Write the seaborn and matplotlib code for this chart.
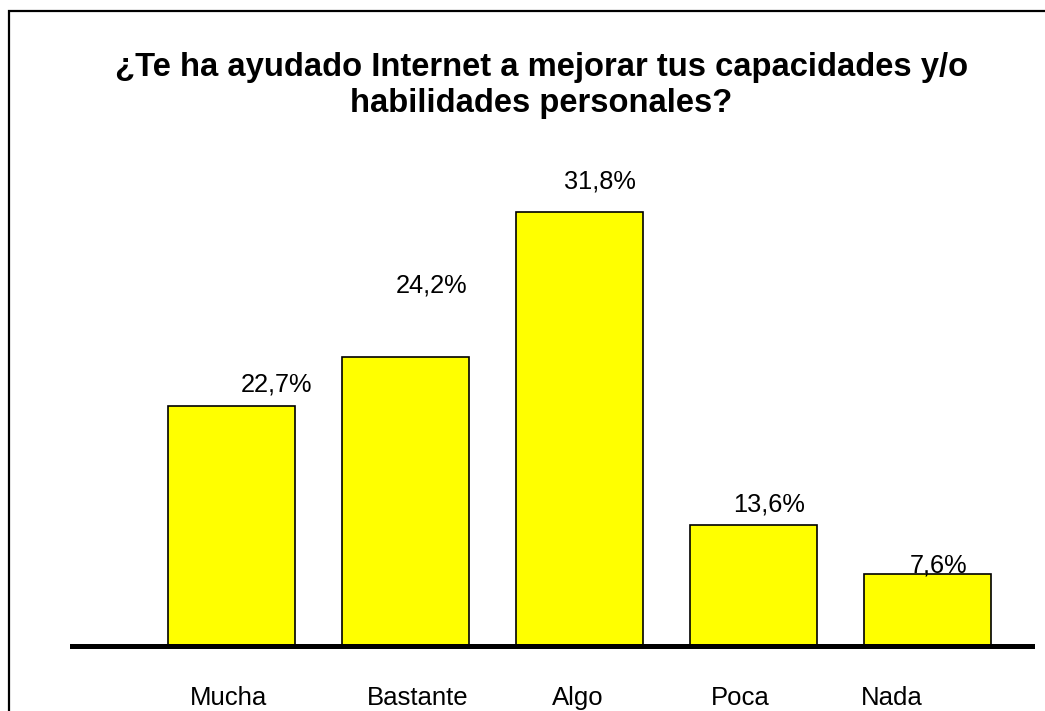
import matplotlib
matplotlib.use("Agg")
import matplotlib.pyplot as plt
import matplotlib.patches as patches
import matplotlib.transforms as mtransforms
import seaborn as sns
import pandas as pd

# data
categorias = ['Mucha', 'Bastante', 'Algo', 'Poca', 'Nada']
etiquetas = ['22,7%', '24,2%', '31,8%', '13,6%', '7,6%']
# bar heights as drawn in the original (not proportional to the labels)
alturas = [22.7, 27.3, 41.0, 11.4, 6.8]

titulo = '¿Te ha ayudado Internet a mejorar tus capacidades y/o\nhabilidades personales?'

# label offsets from bar top-centre, in pixels (layout only)
offs_x = [45, 27, 21, 16, 11]
offs_y = [21, 72, 31, 21, 8]
# category labels are not quite under their bars in the original
tick_dx = [-3, 13, -1, -13, -35]

df = pd.DataFrame({'cat': categorias, 'val': alturas})

sns.set_style('white')
plt.rcParams['font.family'] = ['Liberation Sans', 'DejaVu Sans']
plt.rcParams['text.color'] = 'black'
plt.rcParams['xtick.color'] = 'black'

W, H = 1045, 711
fig = plt.figure(figsize=(W / 100, H / 100), dpi=100)
ax = fig.add_axes([72 / W, 1 - 645.7 / H, (1032 - 72) / W, 475.6 / H])

sns.barplot(data=df, x='cat', y='val', color='#FFFF00', edgecolor='black',
            linewidth=1.2, width=0.73, saturation=1, ax=ax)

ax.set_xlim(-0.914, 4.603)
ax.set_ylim(0, 45)
ax.set_xlabel('')
ax.set_ylabel('')
ax.set_yticks([])
for s in ['top', 'left', 'right']:
    ax.spines[s].set_visible(False)
ax.spines['bottom'].set_linewidth(3.6)
ax.spines['bottom'].set_color('black')
ax.spines['bottom'].set_zorder(5)
ax.tick_params(axis='x', length=0, pad=29, labelsize=18.5, labelcolor='black')

for lab, dx in zip(ax.get_xticklabels(), tick_dx):
    off = mtransforms.ScaledTranslation(dx / 100, 0, fig.dpi_scale_trans)
    lab.set_transform(lab.get_transform() + off)

for i, (h, t) in enumerate(zip(alturas, etiquetas)):
    ax.annotate(t, (i, h), xytext=(offs_x[i] * 0.72, offs_y[i] * 0.72),
                textcoords='offset points', ha='center', va='center',
                fontsize=18.3, color='black', zorder=1)

fig.text(541.5 / W, 1 - 112 / H, titulo, ha='center', va='baseline',
         fontsize=23.6, fontweight='bold', linespacing=1.22, color='black')

fig.patches.append(patches.Rectangle((9 / W, -0.1), 1.2, 1.1 - 11 / H + 0.0,
                                     transform=fig.transFigure, fill=False,
                                     edgecolor='black', linewidth=1.6))

fig.savefig('out.png', dpi=100)
